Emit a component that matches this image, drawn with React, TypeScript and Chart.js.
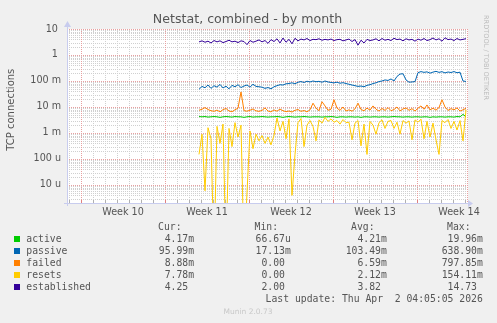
import React, { useEffect, useRef } from "react";
import { Chart, registerables } from "chart.js";

Chart.register(...registerables);

// ---- time axis (hours from the left edge of the plot) ----
const X_MIN = 0;
const X_MAX = 800;
const START_HOUR = 264;
const STEP_HOURS = 6;
const weekStarts = [28, 196, 364, 532, 700];
const weekCenters = [112, 280, 448, 616, 784];
const weekLabels = ["Week 10", "Week 11", "Week 12", "Week 13", "Week 14"];

// ---- value axis ----
const Y_MIN = 2.03e-6;
const Y_MAX = 10;
const yTickValues = [0.00001, 0.0001, 0.001, 0.01, 0.1, 1, 10];
const yTickLabels = ["10 u", "100 u", "1 m", "10 m", "100 m", "1 ", "10 "];

const TITLE = "Netstat, combined - by month";
const Y_TITLE = "TCP connections";
const WATERMARK = "RRDTOOL / TOBI OETIKER";

const seriesNames = ["active", "passive", "failed", "resets", "established"];
const seriesColors = ["#00CC00", "#0066B3", "#FF8000", "#FFCC00", "#330099"];

const MILLI = 1e-3;

// values in milli-units
const activeMilli = [
  4.3, 4.2, 4.3, 4.1, 4.2, 4.3, 4.2, 4.0, 4.2, 4.3,
  4.2, 4.1, 4.3, 4.2, 4.2, 4.0, 4.2, 4.3, 4.1, 4.2,
  4.2, 4.3, 4.2, 4.1, 4.2, 4.2, 4.3, 4.2, 4.0, 4.2,
  4.3, 4.2, 4.1, 4.2, 4.2, 4.3, 4.2, 4.1, 4.2, 4.2,
  4.2, 4.1, 4.2, 4.2, 4.3, 4.2, 4.0, 4.2, 4.2, 4.1,
  4.2, 4.2, 4.1, 4.2, 4.0, 4.2, 4.2, 4.1, 4.2, 4.2,
  4.1, 4.2, 4.2, 4.1, 4.2, 4.3, 4.2, 4.2, 4.1, 4.2,
  4.2, 4.1, 4.2, 4.2, 4.1, 4.2, 4.2, 4.0, 4.2, 4.1,
  4.2, 4.2, 4.1, 4.2, 4.2, 4.1, 4.3, 4.2, 5.2, 4.17,
];

// values in units
const passive = [
  0.048, 0.062, 0.055, 0.070, 0.052, 0.066, 0.058, 0.074, 0.054, 0.063,
  0.050, 0.068, 0.060, 0.072, 0.056, 0.064, 0.070, 0.058, 0.075, 0.062,
  0.060, 0.058, 0.052, 0.056, 0.050, 0.060, 0.066, 0.072, 0.070, 0.078,
  0.080, 0.085, 0.078, 0.090, 0.095, 0.088, 0.098, 0.092, 0.100, 0.094,
  0.097, 0.090, 0.100, 0.092, 0.088, 0.085, 0.090, 0.082, 0.086, 0.080,
  0.075, 0.070, 0.066, 0.062, 0.064, 0.060, 0.068, 0.072, 0.080, 0.085,
  0.095, 0.100, 0.110, 0.105, 0.120, 0.100, 0.150, 0.185, 0.190, 0.110,
  0.090, 0.092, 0.095, 0.210, 0.230, 0.215, 0.225, 0.200, 0.220, 0.235,
  0.215, 0.228, 0.205, 0.222, 0.212, 0.230, 0.208, 0.218, 0.100, 0.096,
];

const failedMilli = [
  7.5, 8.2, 9.5, 8.0, 7.2, 6.8, 7.6, 6.5, 7.9, 8.8,
  7.0, 6.6, 7.8, 9.0, 38, 7.2, 6.9, 7.5, 8.4, 7.1,
  6.8, 7.4, 9.2, 7.0, 6.5, 7.7, 6.9, 8.3, 7.2, 6.6,
  7.0, 6.4, 7.5, 8.0, 6.8, 7.3, 6.5, 7.8, 14, 9.0,
  7.2, 16, 11, 7.5, 8.2, 19, 9.0, 7.4, 10, 7.0,
  7.8, 6.9, 8.5, 14, 8.0, 7.2, 9.0, 7.6, 11, 8.2,
  7.0, 8.8, 7.4, 9.5, 7.2, 8.0, 10, 7.1, 8.4, 9.2,
  7.5, 8.6, 7.0, 9.0, 11, 8.2, 12, 7.8, 8.9, 7.6,
  9.5, 19, 10, 7.4, 8.6, 7.8, 9.2, 7.0, 7.8, 8.88,
];

const resetsMilli = [
  0.15, 0.9, 0.006, 1.6, 0.6, 0, 1.8, 0.4, 2.2, 0,
  1.5, 0.3, 2.5, 0.7, 2.0, 0, 0.005, 1.2, 0.25, 0.9,
  0.5, 0.8, 0.4, 0.7, 0.35, 0.8, 3.8, 1.2, 2.8, 0.6,
  3.5, 0.004, 0.15, 2.5, 3.6, 0.3, 2.0, 3.0, 1.8, 0.5,
  3.2, 2.4, 4.0, 2.8, 3.5, 2.6, 3.0, 2.2, 3.3, 2.5,
  2.6, 0.55, 2.4, 3.0, 0.32, 2.2, 0.15, 2.8, 2.0, 0.9,
  2.5, 3.2, 1.5, 2.8, 3.0, 1.5, 2.6, 0.9, 3.0, 2.4,
  2.9, 0.55, 3.2, 2.6, 3.4, 0.6, 2.8, 0.7, 2.4, 0.55,
  0.15, 3.0, 2.5, 3.3, 1.5, 2.8, 1.3, 3.0, 0.5, 7.78,
];

const established = [
  3.2, 3.5, 3.1, 3.4, 2.9, 3.6, 3.2, 3.5, 3.0, 3.3,
  3.7, 3.2, 3.4, 3.0, 3.5, 3.3, 2.5, 3.6, 3.1, 3.4,
  3.8, 3.2, 3.6, 2.8, 3.9, 3.3, 4.2, 2.9, 4.5, 3.1,
  4.0, 2.7, 4.4, 3.5, 4.1, 3.8, 4.3, 3.6, 4.0, 3.9,
  4.2, 3.7, 4.0, 3.8, 4.1, 3.6, 3.9, 4.0, 3.5, 3.8,
  4.1, 3.3, 3.9, 2.4, 3.7, 2.9, 4.0, 3.6, 3.8, 4.2,
  3.5, 4.3, 3.7, 4.0, 3.6, 4.4, 3.9, 4.1, 3.5, 4.2,
  3.8, 4.0, 3.4, 4.1, 3.7, 4.3, 3.6, 3.9, 4.5, 3.8,
  4.2, 3.4, 4.6, 3.9, 4.1, 3.6, 4.3, 3.8, 4.0, 4.25,
];

// legend statistics
const legendHeaders = ["Cur:", "Min:", "Avg:", "Max:"];
const legendCur = ["4.17m", "95.99m", "8.88m", "7.78m", "4.25 "];
const legendMin = ["66.67u", "17.13m", "0.00 ", "0.00 ", "2.00 "];
const legendAvg = ["4.21m", "103.49m", "6.59m", "2.12m", "3.82 "];
const legendMax = ["19.96m", "638.90m", "797.85m", "154.11m", "14.73 "];
const LAST_UPDATE = "Last update: Thu Apr  2 04:05:05 2026";
const FOOTER = "Munin 2.0.73";

const TEXT_COLOR = "#555555";
const AXIS_COLOR = "#C8CCEE";
const MINOR_GRID = "#D0D0D0";
const MAJOR_GRID = "#E8A0A0";

const sampleHours = activeMilli.map((_, i) => START_HOUR + i * STEP_HOURS);

function toPoints(values: number[], scale: number) {
  return values.map((v, i) => ({
    x: sampleHours[i],
    y: v === 0 ? Y_MIN / 100 : v * scale,
  }));
}

const rrdPlugin = {
  id: "rrdLook",
  beforeDraw(chart: any) {
    const { ctx, chartArea: a, width, height } = chart;
    ctx.save();
    ctx.fillStyle = "#F0F0F0";
    ctx.fillRect(0, 0, width, height);
    ctx.fillStyle = "#FFFFFF";
    ctx.fillRect(a.left, a.top, a.right - a.left + 1, a.bottom - a.top);
    ctx.restore();
  },
  beforeDatasetsDraw(chart: any) {
    const { ctx, chartArea: a } = chart;
    const xs = chart.scales.x;
    const ys = chart.scales.y;
    ctx.save();
    ctx.lineWidth = 1;
    ctx.setLineDash([1, 1]);
    // minor horizontal (2..9 of each decade)
    ctx.strokeStyle = MINOR_GRID;
    for (let e = -7; e <= 1; e++) {
      for (let k = 2; k <= 9; k++) {
        const v = k * Math.pow(10, e);
        if (v <= Y_MIN || v >= Y_MAX) continue;
        const py = Math.round(ys.getPixelForValue(v)) + 0.5;
        ctx.beginPath();
        ctx.moveTo(a.left, py);
        ctx.lineTo(a.right, py);
        ctx.stroke();
      }
    }
    // minor vertical (days)
    for (let h = weekStarts[0] - 24; h <= X_MAX; h += 24) {
      if (h < X_MIN) continue;
      if (weekStarts.includes(h)) continue;
      const px = Math.round(xs.getPixelForValue(h)) + 0.5;
      ctx.beginPath();
      ctx.moveTo(px, a.top);
      ctx.lineTo(px, a.bottom);
      ctx.stroke();
    }
    // major horizontal (decades)
    ctx.strokeStyle = MAJOR_GRID;
    for (const v of yTickValues) {
      const py = Math.round(ys.getPixelForValue(v)) + 0.5;
      ctx.beginPath();
      ctx.moveTo(a.left, py);
      ctx.lineTo(a.right, py);
      ctx.stroke();
    }
    // major vertical (weeks) + right edge
    for (const h of [...weekStarts, X_MAX]) {
      const px = Math.round(xs.getPixelForValue(h)) + 0.5;
      ctx.beginPath();
      ctx.moveTo(px, a.top);
      ctx.lineTo(px, a.bottom);
      ctx.stroke();
    }
    ctx.setLineDash([]);
    // small tick marks on the x axis
    for (let h = weekStarts[0] - 24; h <= X_MAX; h += 24) {
      if (h < X_MIN) continue;
      const major = weekStarts.includes(h);
      const px = Math.round(xs.getPixelForValue(h)) + 0.5;
      ctx.strokeStyle = major ? "#E08080" : "#B0B0B0";
      ctx.beginPath();
      ctx.moveTo(px, a.bottom - 3);
      ctx.lineTo(px, a.bottom);
      ctx.stroke();
    }
    ctx.restore();
  },
  afterDatasetsDraw(chart: any) {
    const { ctx, chartArea: a } = chart;
    ctx.save();
    ctx.lineWidth = 1;
    ctx.strokeStyle = AXIS_COLOR;
    ctx.fillStyle = AXIS_COLOR;
    const by = Math.round(a.bottom) + 0.5;
    const lx = Math.round(a.left) + 0.5;
    ctx.beginPath();
    ctx.moveTo(a.left - 3, by);
    ctx.lineTo(a.right + 3, by);
    ctx.stroke();
    ctx.beginPath();
    ctx.moveTo(a.right + 1, by - 3.5);
    ctx.lineTo(a.right + 6, by);
    ctx.lineTo(a.right + 1, by + 3.5);
    ctx.closePath();
    ctx.fill();
    ctx.beginPath();
    ctx.moveTo(lx, a.bottom + 3);
    ctx.lineTo(lx, a.top - 4);
    ctx.stroke();
    ctx.beginPath();
    ctx.moveTo(lx - 3.5, a.top - 2);
    ctx.lineTo(lx, a.top - 8);
    ctx.lineTo(lx + 3.5, a.top - 2);
    ctx.closePath();
    ctx.fill();
    ctx.restore();
  },
  afterDraw(chart: any) {
    const { ctx } = chart;
    ctx.save();
    // title
    ctx.fillStyle = TEXT_COLOR;
    ctx.font = '12.6px "DejaVu Sans"';
    ctx.textAlign = "center";
    ctx.textBaseline = "alphabetic";
    ctx.fillText(TITLE, 247.5, 22.5);
    // y axis title
    ctx.save();
    ctx.translate(14, 109.7);
    ctx.rotate(-Math.PI / 2);
    ctx.font = '10px "DejaVu Sans"';
    ctx.textAlign = "center";
    ctx.textBaseline = "alphabetic";
    ctx.fillText(Y_TITLE, 0, 0);
    ctx.restore();
    // watermark
    ctx.save();
    ctx.translate(486, 57.5);
    ctx.rotate(Math.PI / 2);
    ctx.font = '6.6px "DejaVu Sans"';
    ctx.fillStyle = "#BBBBBB";
    ctx.textAlign = "center";
    ctx.textBaseline = "middle";
    ctx.fillText(WATERMARK, 0, 0);
    ctx.restore();
    // legend
    ctx.font = '9.75px "DejaVu Sans Mono"';
    ctx.textBaseline = "middle";
    ctx.fillStyle = TEXT_COLOR;
    const headerX = [181.5, 278, 374.5, 470.5];
    const valueX = [194, 290.8, 386.8, 482.8];
    ctx.textAlign = "right";
    legendHeaders.forEach((h, i) => ctx.fillText(h, headerX[i], 227.6));
    seriesNames.forEach((name, i) => {
      const y = 239.4 + 12 * i;
      ctx.fillStyle = seriesColors[i];
      ctx.fillRect(14, Math.round(y) - 3, 6, 6);
      ctx.fillStyle = TEXT_COLOR;
      ctx.textAlign = "left";
      ctx.fillText(name, 26.3, y);
      ctx.textAlign = "right";
      const vals = [legendCur[i], legendMin[i], legendAvg[i], legendMax[i]];
      vals.forEach((v, j) => ctx.fillText(v, valueX[j], y));
    });
    ctx.textAlign = "right";
    ctx.fillText(LAST_UPDATE, 482.8, 299.6);
    ctx.font = '7.5px "DejaVu Sans"';
    ctx.fillStyle = "#C8C8C8";
    ctx.textAlign = "center";
    ctx.fillText(FOOTER, 248, 311.7);
    ctx.restore();
  },
};

export default function App() {
  const canvasRef = useRef<HTMLCanvasElement | null>(null);

  useEffect(() => {
    const canvas = canvasRef.current;
    if (!canvas) return;
    const seriesValues = [
      toPoints(activeMilli, MILLI),
      toPoints(passive, 1),
      toPoints(failedMilli, MILLI),
      toPoints(resetsMilli, MILLI),
      toPoints(established, 1),
    ];
    const chart = new Chart(canvas, {
      type: "line",
      data: {
        datasets: seriesNames.map((name, i) => ({
          label: name,
          data: seriesValues[i],
          borderColor: seriesColors[i],
          backgroundColor: seriesColors[i],
          borderWidth: 1,
          pointRadius: 0,
          tension: 0,
          fill: false,
          order: seriesNames.length - i,
        })),
      },
      plugins: [rrdPlugin],
      options: {
        animation: false,
        responsive: false,
        maintainAspectRatio: false,
        devicePixelRatio: 1,
        layout: { padding: { left: 0, top: 29, right: 30, bottom: 0 } },
        plugins: {
          legend: { display: false },
          tooltip: { enabled: false },
          title: { display: false },
        },
        scales: {
          x: {
            type: "linear",
            min: X_MIN,
            max: X_MAX,
            bounds: "data",
            grid: { display: false, drawTicks: false },
            border: { display: false },
            afterFit: (scale: any) => {
              scale.height = 120;
            },
            afterBuildTicks: (scale: any) => {
              scale.ticks = weekCenters.map((v) => ({ value: v }));
            },
            ticks: {
              autoSkip: false,
              maxRotation: 0,
              padding: 4,
              color: TEXT_COLOR,
              font: { family: "DejaVu Sans", size: 9.6 },
              callback: (value: any) => {
                const idx = weekCenters.indexOf(Number(value));
                return idx >= 0 ? weekLabels[idx] : "";
              },
            },
          },
          y: {
            type: "logarithmic",
            min: Y_MIN,
            max: Y_MAX,
            bounds: "data",
            grid: { display: false, drawTicks: false },
            border: { display: false },
            afterFit: (scale: any) => {
              scale.width = 67;
            },
            afterBuildTicks: (scale: any) => {
              scale.ticks = yTickValues.map((v) => ({ value: v }));
            },
            ticks: {
              autoSkip: false,
              padding: 6,
              color: TEXT_COLOR,
              font: { family: "DejaVu Sans", size: 9.6 },
              callback: (value: any) => {
                const v = Number(value);
                const idx = yTickValues.findIndex((t) => Math.abs(t - v) / t < 1e-6);
                return idx >= 0 ? yTickLabels[idx] : "";
              },
            },
          },
        },
      } as any,
    });
    return () => chart.destroy();
  }, []);

  return (
    <div style={{ position: "fixed", left: 0, top: 0, width: 497, height: 323, background: "#F0F0F0" }}>
      <canvas ref={canvasRef} width={497} height={323} style={{ display: "block", width: 497, height: 323 }} />
    </div>
  );
}
